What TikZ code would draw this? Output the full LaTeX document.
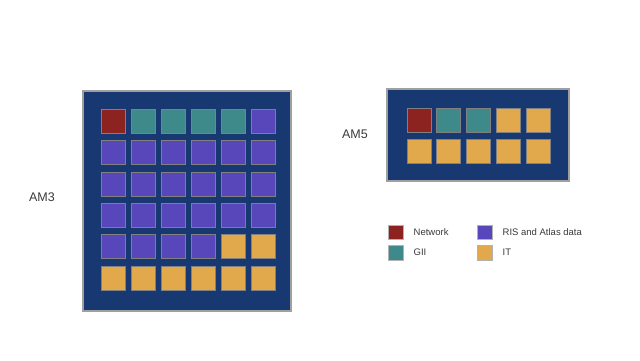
\documentclass[tikz,border=0pt]{standalone}
\usepackage{fontspec}
\setmainfont{Liberation Sans}
\usetikzlibrary{calc}

\definecolor{boardblue}{HTML}{173870}
\definecolor{netred}{HTML}{8C2320}
\definecolor{giiteal}{HTML}{3E8A8B}
\definecolor{rispurple}{HTML}{5747BA}
\definecolor{itorange}{HTML}{E1A94C}
\definecolor{labelgray}{HTML}{3A3A3A}

\tikzset{
  board/.style={draw=gray!75,line width=1.4pt,fill=boardblue},
  cell/.style={draw=black!50,line width=0.6pt,inner sep=0pt,minimum size=24pt},
  key/.style={draw=black!30,line width=0.4pt,inner sep=0pt,minimum size=14.5pt},
  net/.style={cell,fill=netred},
  gii/.style={cell,fill=giiteal},
  ris/.style={cell,fill=rispurple},
  it/.style={cell,fill=itorange},
  amlabel/.style={text=labelgray,font=\fontsize{12.5}{14}\selectfont},
  keylabel/.style={text=labelgray,font=\fontsize{9.5}{11}\selectfont,anchor=west,inner sep=0pt}
}

\begin{document}
\begin{tikzpicture}[x=1pt,y=-1pt]
  \useasboundingbox[fill=white] (0,0) rectangle (640,361);
  % AM3
  \draw[board] (83,91) rectangle (291,311);
  \foreach \row [count=\r] in {{net,gii,gii,gii,gii,ris},{ris,ris,ris,ris,ris,ris},
      {ris,ris,ris,ris,ris,ris},{ris,ris,ris,ris,ris,ris},{ris,ris,ris,ris,it,it},{it,it,it,it,it,it}}
    \foreach \kind [count=\c] in \row
      \node[\kind] (am3-\r-\c) at ({113.7+29.9*(\c-1)},{121+31.4*(\r-1)}) {};
  \node[amlabel] (am3) at (42,197) {AM3};
  % AM5
  \draw[board] (387,89) rectangle (569,181);
  \foreach \row [count=\r] in {{net,gii,gii,it,it},{it,it,it,it,it}}
    \foreach \kind [count=\c] in \row
      \node[\kind] (am5-\r-\c) at ({418.8+29.8*(\c-1)},{120+31.3*(\r-1)}) {};
  \node[amlabel] (am5) at (355,134) {AM5};
  % legend
  \path (395.5,232) node[key,fill=netred] (k1) {} (395.5,252.5) node[key,fill=giiteal] (k2) {}
  (484.5,232) node[key,fill=rispurple] (k3) {} (484.5,252.5) node[key,fill=itorange] (k4) {};
  \node[keylabel] (t1) at (413.5,232) {Network};
  \node[keylabel] (t2) at (413.5,252.5) {GII};
  \node[keylabel] (t3) at (502.5,232) {RIS and Atlas data};
  \node[keylabel] (t4) at (502.5,252.5) {IT};
\end{tikzpicture}
\end{document}
